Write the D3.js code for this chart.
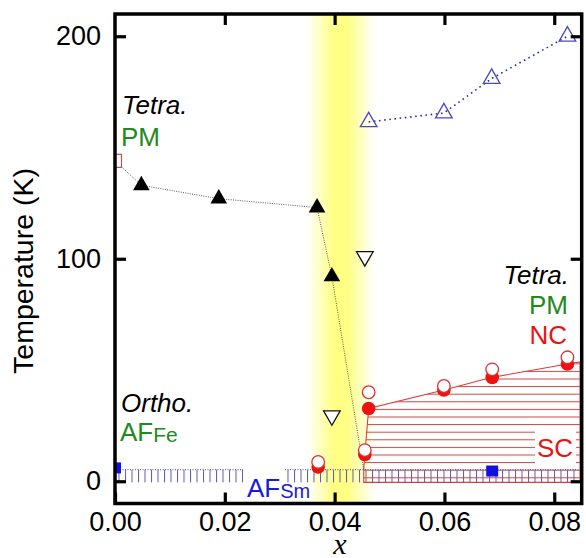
<!DOCTYPE html>
<html>
<head>
<meta charset="utf-8">
<script src="https://cdn.jsdelivr.net/npm/d3@7"></script>
<style>
  body { margin: 0; background: #fff; }
  svg { display: block; font-family: "Liberation Sans", Arial, sans-serif; }
</style>
</head>
<body>
<div id="chart"></div>
<script>
// values
var xTicks = [0, 0.02, 0.04, 0.06, 0.08];
var yTicks = [0, 100, 200];

// structural transition (filled black triangles) + open square at x = 0
var tsX = [0.0048, 0.0189, 0.0368, 0.0395];
var tsT = [133, 127, 123, 92];
var sqX = [0];
var sqT = [144];
var tsLineX = [0, 0.0048, 0.0189, 0.0368, 0.0395, 0.0453];
var tsLineT = [144, 133, 127, 123, 92, 5.2];

// open inverted triangles
var invX = [0.0395, 0.0455];
var invT = [29.5, 101];

// open blue triangles
var upX = [0.0462, 0.0599, 0.0686, 0.0824];
var upT = [161.5, 165.5, 181, 200];

// red circles: open (NC) and filled (SC)
var ncX = [0.0370, 0.0455, 0.0462, 0.0599, 0.0687, 0.0824];
var ncT = [8.7, 14, 40, 42.8, 50.3, 55.7];
var scX = [0.0370, 0.0455, 0.0462, 0.0599, 0.0687, 0.0824];
var scT = [6.4, 12, 32.7, 41, 46.7, 52.7];

// SC dome outline
var scEdgeX = [0.0453, 0.0453, 0.0455, 0.0462, 0.0599, 0.0687, 0.0824, 0.0847, 0.0847];
var scEdgeT = [-0.5, 5.2, 12, 32.7, 41, 46.7, 52.7, 53.6, -0.5];

// AF(Sm) order: blue squares and band
var afX = [0, 0.0687];
var afT = [6, 4.6];
var afBandX = [0, 0.0847];
var afBandT = [-0.5, 5.2];

// crossover band
var bandX = [0.0345, 0.0475];

onload = function () {
  var W = 586, H = 558;
  var margin = {top: 14, right: 4.3, bottom: 54.5, left: 115};

  var svg = d3.select("#chart").append("svg")
    .attr("width", W)
    .attr("height", H);

  var x = d3.scaleLinear().domain([0, 0.085]).range([margin.left, W - margin.right]);
  var y = d3.scaleLinear().domain([-10, 210]).range([H - margin.bottom, margin.top]);

  var defs = svg.append("defs");

  defs.append("clipPath").attr("id", "plot")
    .append("rect")
    .attr("x", x(0)).attr("y", y(210))
    .attr("width", x(0.085) - x(0)).attr("height", y(-10) - y(210));

  var grad = defs.append("linearGradient").attr("id", "band")
    .attr("gradientUnits", "userSpaceOnUse")
    .attr("x1", x(bandX[0])).attr("x2", x(bandX[1]))
    .attr("y1", 0).attr("y2", 0);
  [[0, 0], [0.1, 0.12], [0.3, 0.6], [0.42, 0.85], [0.62, 0.8], [0.78, 0.45], [0.98, 0]].forEach(function (s) {
    grad.append("stop").attr("offset", s[0])
      .attr("stop-color", "#ffff6a").attr("stop-opacity", s[1]);
  });

  var vp = defs.append("pattern").attr("id", "vhatch")
    .attr("patternUnits", "userSpaceOnUse")
    .attr("x", 125).attr("y", 0).attr("width", 6.5).attr("height", 10);
  vp.append("line").attr("x1", 0.5).attr("x2", 0.5).attr("y1", 0).attr("y2", 10)
    .attr("stroke", "#5a5ab4").attr("stroke-width", 1);

  var hp = defs.append("pattern").attr("id", "hhatch")
    .attr("patternUnits", "userSpaceOnUse")
    .attr("x", 0).attr("y", 431.7).attr("width", 10).attr("height", 7.6);
  hp.append("line").attr("x1", 0).attr("x2", 10).attr("y1", 0.5).attr("y2", 0.5)
    .attr("stroke", "#c84848").attr("stroke-width", 1);

  var g = svg.append("g").attr("clip-path", "url(#plot)");

  // yellow crossover band
  g.append("rect")
    .attr("x", x(bandX[0])).attr("width", x(bandX[1]) - x(bandX[0]))
    .attr("y", y(210)).attr("height", y(-10) - y(210))
    .attr("fill", "url(#band)");

  // AF(Sm) band
  g.append("rect")
    .attr("x", x(afBandX[0])).attr("width", x(afBandX[1]) - x(afBandX[0]))
    .attr("y", y(afBandT[1])).attr("height", y(afBandT[0]) - y(afBandT[1]))
    .attr("fill", "url(#vhatch)");

  // SC dome
  var scPts = scEdgeX.map(function (d, i) { return [x(d), y(scEdgeT[i])]; });
  g.append("path")
    .attr("d", d3.line()(scPts) + "Z")
    .attr("fill", "url(#hhatch)")
    .attr("stroke", "#e03a3a").attr("stroke-width", 1.1);

  g.append("line")
    .attr("x1", x(afBandX[0])).attr("x2", x(afBandX[1]))
    .attr("y1", y(afBandT[1])).attr("y2", y(afBandT[1]))
    .attr("stroke", "#4848a8").attr("stroke-width", 1)
    .attr("stroke-dasharray", "1,1.5");

  // label backgrounds
  g.append("rect").attr("x", 535).attr("y", 428).attr("width", 41).attr("height", 36).attr("fill", "#fff");
  g.append("rect").attr("x", 243).attr("y", 466).attr("width", 41).attr("height", 34).attr("fill", "#fff");

  // lines
  var line = d3.line().x(function (d) { return x(d[0]); }).y(function (d) { return y(d[1]); });
  g.append("path")
    .attr("d", line(tsLineX.map(function (d, i) { return [d, tsLineT[i]]; })))
    .attr("fill", "none").attr("stroke", "#333").attr("stroke-width", 0.8)
    .attr("stroke-dasharray", "1,1.3");
  g.append("path")
    .attr("d", line(upX.map(function (d, i) { return [d, upT[i]]; })))
    .attr("fill", "none").attr("stroke", "#2c2ca0").attr("stroke-width", 1.6)
    .attr("stroke-dasharray", "1.6,3.6");

  var tri = d3.symbol().type(d3.symbolTriangle).size(120);

  // markers
  g.selectAll(".sq").data(sqX).enter().append("rect")
    .attr("x", function (d) { return x(d) - 6.5; })
    .attr("y", function (d, i) { return y(sqT[i]) - 6.5; })
    .attr("width", 13).attr("height", 13)
    .attr("fill", "#fff").attr("stroke", "#c05050").attr("stroke-width", 1.2);

  g.selectAll(".ts").data(tsX).enter().append("path")
    .attr("d", tri)
    .attr("transform", function (d, i) { return "translate(" + x(d) + "," + y(tsT[i]) + ")"; })
    .attr("fill", "#000");

  g.selectAll(".inv").data(invX).enter().append("path")
    .attr("d", tri)
    .attr("transform", function (d, i) { return "translate(" + x(d) + "," + y(invT[i]) + ") rotate(180)"; })
    .attr("fill", "#fff").attr("stroke", "#111").attr("stroke-width", 1.3);

  g.selectAll(".up").data(upX).enter().append("path")
    .attr("d", tri)
    .attr("transform", function (d, i) { return "translate(" + x(d) + "," + y(upT[i]) + ")"; })
    .attr("fill", "none").attr("stroke", "#4a4ac0").attr("stroke-width", 1.3);

  g.selectAll(".sc").data(scX).enter().append("circle")
    .attr("cx", function (d) { return x(d); })
    .attr("cy", function (d, i) { return y(scT[i]); })
    .attr("r", 6.8).attr("fill", "#ee1111");

  g.selectAll(".nc").data(ncX).enter().append("circle")
    .attr("cx", function (d) { return x(d); })
    .attr("cy", function (d, i) { return y(ncT[i]); })
    .attr("r", 6.3).attr("fill", "#fff").attr("stroke", "#dd3030").attr("stroke-width", 1.3);

  g.selectAll(".af").data(afX).enter().append("rect")
    .attr("x", function (d) { return x(d) - 6; })
    .attr("y", function (d, i) { return y(afT[i]) - 5.5; })
    .attr("width", 12).attr("height", 11)
    .attr("fill", "#1010e0");

  // annotations
  var green = "#208a20", red = "#ee1111", blue = "#1a1ad6";
  function label(txt, px, py, color, anchor, italic) {
    return svg.append("text").attr("x", px).attr("y", py)
      .attr("fill", color).attr("font-size", 26)
      .attr("text-anchor", anchor || "start")
      .attr("font-style", italic ? "italic" : "normal")
      .text(txt);
  }
  label("Tetra.", 122, 114, "#000", "start", true);
  label("PM", 121, 145.5, green);
  label("Ortho.", 121, 412, "#000", "start", true);
  var afFe = label("AF", 120, 441, green);
  afFe.append("tspan").attr("font-size", 21).attr("dy", 1).text("Fe");
  label("Tetra.", 569, 284, "#000", "end", true);
  label("PM", 568, 314, green, "end");
  label("NC", 567, 344, red, "end");
  label("SC", 537, 457, red);
  var afSm = label("AF", 247, 497, blue);
  afSm.append("tspan").attr("font-size", 20).attr("dy", 1).text("Sm");

  // axes
  function style(sel) {
    sel.select(".domain").remove();
    sel.selectAll(".tick line").attr("stroke", "#000").attr("stroke-width", 3.2);
    sel.selectAll(".tick text").attr("font-size", 27).attr("fill", "#000")
      .attr("font-family", "'Liberation Sans', Arial, sans-serif");
  }
  svg.append("g").attr("transform", "translate(0," + y(-10) + ")")
    .call(d3.axisBottom(x).tickValues(xTicks).tickFormat(d3.format(".2f"))
      .tickSizeInner(-11).tickSizeOuter(0).tickPadding(8))
    .call(style);
  svg.append("g").attr("transform", "translate(0," + y(210) + ")")
    .call(d3.axisTop(x).tickValues(xTicks.slice(1)).tickFormat("")
      .tickSizeInner(-11).tickSizeOuter(0))
    .call(style);
  svg.append("g").attr("transform", "translate(" + x(0) + ",0)")
    .call(d3.axisLeft(y).tickValues(yTicks).tickFormat(d3.format("d"))
      .tickSizeInner(-11).tickSizeOuter(0).tickPadding(14))
    .call(style);
  svg.append("g").attr("transform", "translate(" + x(0.085) + ",0)")
    .call(d3.axisRight(y).tickValues(yTicks).tickFormat("")
      .tickSizeInner(-11).tickSizeOuter(0))
    .call(style);

  svg.append("rect")
    .attr("x", x(0)).attr("y", y(210))
    .attr("width", x(0.085) - x(0)).attr("height", y(-10) - y(210))
    .attr("fill", "none").attr("stroke", "#000").attr("stroke-width", 3.5);

  svg.append("text")
    .attr("transform", "translate(33,271) rotate(-90)")
    .attr("text-anchor", "middle").attr("font-size", 28.5).attr("fill", "#000")
    .text("Temperature (K)");

  svg.append("text")
    .attr("x", 340).attr("y", 554)
    .attr("text-anchor", "middle")
    .attr("font-family", "'Liberation Serif', 'Times New Roman', serif")
    .attr("font-style", "italic").attr("font-size", 30).attr("fill", "#000")
    .text("x");
};
</script>
</body>
</html>
